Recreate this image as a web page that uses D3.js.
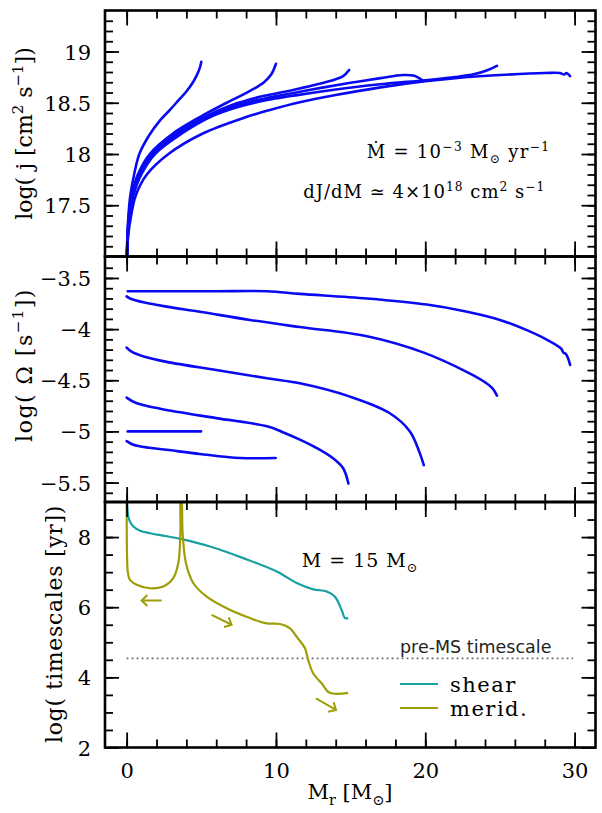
<!DOCTYPE html>
<html><head><meta charset="utf-8">
<script src="https://cdn.jsdelivr.net/npm/d3@7"></script>
<style>body{margin:0;background:#fff}</style>
</head><body><svg id="c" width="602" height="813"></svg>
<script>
// ---------------- DATA ----------------
const xTicks = [0, 10, 20, 30];
const jTicks = [17.5, 18, 18.5, 19];
const omegaTicks = [-5.5, -5, -4.5, -4, -3.5];
const tsTicks = [2, 4, 6, 8];

// log j  vs M_r, one curve per final mass
const jCurve5 = [[0.02,17.0],[0.05,17.2],[0.12,17.4],[0.25,17.6],[0.5,17.8],[0.85,18.0],[1.5,18.18],[2.25,18.33],[2.9,18.43],[3.45,18.52],[4.0,18.61],[4.4,18.69],[4.7,18.77],[4.9,18.84],[5.0,18.9]];
const jCurve10 = [[0.02,17.0],[0.06,17.2],[0.15,17.4],[0.33,17.6],[0.75,17.8],[1.55,18.0],[3.1,18.2],[4.9,18.36],[6.7,18.5],[8.2,18.61],[9.2,18.7],[9.7,18.78],[10.0,18.88]];
const jCurve15 = [[0.02,17.0],[0.07,17.2],[0.17,17.4],[0.38,17.6],[0.82,17.8],[1.7,18.0],[3.3,18.2],[5.2,18.36],[7.1,18.48],[9.0,18.56],[11,18.62],[12.5,18.67],[13.8,18.72],[14.5,18.76],[14.9,18.82]];
const jCurve20 = [[0.02,17.0],[0.07,17.2],[0.18,17.4],[0.42,17.6],[0.9,17.8],[1.8,18.0],[3.5,18.2],[5.4,18.36],[7.3,18.47],[9.2,18.54],[11,18.59],[13,18.645],[15,18.695],[17,18.74],[18.5,18.77],[19.2,18.765],[19.6,18.74],[19.8,18.72]];
const jCurve25 = [[0.02,17.0],[0.08,17.2],[0.2,17.4],[0.46,17.6],[0.98,17.8],[1.9,18.0],[3.7,18.2],[5.6,18.36],[7.5,18.46],[9.5,18.53],[11,18.565],[14,18.63],[17,18.68],[20,18.72],[22,18.75],[23.3,18.78],[24.2,18.82],[24.8,18.86]];
const jCurve30 = [[0.02,17.0],[0.1,17.2],[0.3,17.4],[0.62,17.6],[1.35,17.8],[2.8,18.0],[5.1,18.2],[8.0,18.36],[9.6,18.43],[11.6,18.505],[14,18.575],[17,18.65],[20,18.71],[22,18.74],[25,18.77],[28,18.79],[29.0,18.79],[29.3,18.775],[29.45,18.79],[29.7,18.76]];

// log Omega vs M_r
const omegaCurve5 = [[0.07,-5.0],[4.98,-5.0]];
const omegaCurve10 = [[0.0,-5.095],[0.45,-5.13],[1.5,-5.16],[2.68,-5.18],[4.9,-5.22],[7.6,-5.26],[9.98,-5.26]];
const omegaCurve15 = [[0.0,-4.67],[0.45,-4.71],[1.3,-4.75],[2.68,-4.79],[6.0,-4.87],[9.4,-4.95],[10.5,-5.01],[11.6,-5.08],[12.7,-5.16],[13.8,-5.26],[14.5,-5.36],[14.85,-5.51]];
const omegaCurve20 = [[0.0,-4.18],[0.33,-4.22],[1.2,-4.27],[2.68,-4.32],[6.0,-4.40],[9.4,-4.48],[11.6,-4.53],[14.96,-4.66],[17.6,-4.82],[18.97,-5.0],[19.6,-5.2],[19.9,-5.33]];
const omegaCurve25 = [[0.0,-3.68],[0.22,-3.70],[1.2,-3.74],[2.68,-3.78],[4.9,-3.83],[8.26,-3.91],[11.6,-3.98],[16.1,-4.07],[19.9,-4.23],[22.8,-4.42],[23.9,-4.51],[24.5,-4.58],[24.8,-4.65]];
const omegaCurve30 = [[0.07,-3.63],[3,-3.63],[6,-3.63],[9.4,-3.63],[11.6,-3.655],[16.1,-3.70],[20.1,-3.76],[22.8,-3.83],[25.0,-3.91],[26.8,-4.01],[28.1,-4.10],[29.1,-4.19],[29.25,-4.23],[29.4,-4.24],[29.55,-4.28],[29.7,-4.35]];

// log timescales vs M_r (M = 15 Msun)
const shearTs = [[0.02,9.1],[0.05,8.8],[0.11,8.59],[0.25,8.42],[0.45,8.30],[0.9,8.18],[1.56,8.11],[2.6,8.03],[3.68,7.94],[5.58,7.73],[7.81,7.40],[10.05,7.02],[11.39,6.69],[12.5,6.51],[13.4,6.45],[13.95,6.30],[14.4,5.92],[14.62,5.69],[14.84,5.69]];
const meridTs = [[0.0,9.1],[0.01,8.0],[0.03,7.4],[0.08,7.0],[0.22,6.78],[0.67,6.64],[1.56,6.54],[2.45,6.59],[3.12,6.83],[3.46,7.26],[3.6,8.11],[3.63,9.2],[3.66,9.2],[3.75,8.11],[3.97,7.26],[4.46,6.69],[5.36,6.30],[6.7,5.97],[8.26,5.69],[9.38,5.54],[10.27,5.52],[10.94,5.40],[11.4,5.15],[11.94,4.83],[12.16,4.49],[12.5,4.11],[13.06,3.83],[13.6,3.56],[14.84,3.56]];
const preMSTimescale = 4.54;
const preMSRange = [0, 29.9];

// arrows in the timescale panel (data coordinates: from -> to)
const arrowFrom = [[2.34,6.19],[5.69,5.78],[12.68,3.40]];
const arrowTo   = [[1.0,6.19],[7.03,5.50],[14.02,3.07]];

// ---------------- LAYOUT ----------------
const svg = d3.select("#c");
const L = 105, R = 595.5;
const BLUE = "#0a0af2", TEAL = "#17a0a0", OLIVE = "#9e9e08";
const SERIF = "DejaVu Serif";

const x = d3.scaleLinear().domain([-1.45, 31.4]).range([L, R]);
const yJ = d3.scaleLinear().domain([17, 19.4]).range([256.5, 10.5]);
const yO = d3.scaleLinear().domain([-5.69, -3.29]).range([502, 256.5]);
const yT = d3.scaleLinear().domain([2, 9]).range([747.5, 502]);

const panels = [
  {id:"p1", y:yJ, major:jTicks, minor:d3.range(17.1, 19.4, 0.1)},
  {id:"p2", y:yO, major:omegaTicks, minor:d3.range(-5.6, -3.3, 0.1)},
  {id:"p3", y:yT, major:tsTicks, minor:d3.range(2.5, 9, 0.5)}
];
const xMinor = d3.range(-0, 32, 2);
const fmtMinus = d => d3.format("")(d).replace("-", "\u2212");

const defs = svg.append("defs");
panels.forEach(p => {
  const [b, t] = p.y.range();
  defs.append("clipPath").attr("id", "clip-" + p.id)
    .append("rect").attr("x", L).attr("y", t).attr("width", R - L).attr("height", b - t);
});

function tickAxes(p, labelLeft, labelBottom) {
  const [b, t] = p.y.range();
  const noDom = g => { g.select(".domain").remove(); g.selectAll("line").attr("stroke","#000").attr("stroke-width",1.8); };
  svg.append("g").attr("transform", `translate(${L},0)`)
    .call(d3.axisRight(p.y).tickValues(p.minor).tickSize(8).tickFormat("")).call(noDom);
  svg.append("g").attr("transform", `translate(${L},0)`)
    .call(d3.axisRight(p.y).tickValues(p.major).tickSize(14).tickFormat("")).call(noDom);
  svg.append("g").attr("transform", `translate(${R},0)`)
    .call(d3.axisLeft(p.y).tickValues(p.minor).tickSize(8).tickFormat("")).call(noDom);
  svg.append("g").attr("transform", `translate(${R},0)`)
    .call(d3.axisLeft(p.y).tickValues(p.major).tickSize(14).tickFormat("")).call(noDom);
  svg.append("g").attr("transform", `translate(0,${t})`)
    .call(d3.axisBottom(x).tickValues(xMinor).tickSize(8).tickFormat("")).call(noDom);
  svg.append("g").attr("transform", `translate(0,${t})`)
    .call(d3.axisBottom(x).tickValues(xTicks).tickSize(15).tickFormat("")).call(noDom);
  svg.append("g").attr("transform", `translate(0,${b})`)
    .call(d3.axisTop(x).tickValues(xMinor).tickSize(8).tickFormat("")).call(noDom);
  svg.append("g").attr("transform", `translate(0,${b})`)
    .call(d3.axisTop(x).tickValues(xTicks).tickSize(15).tickFormat("")).call(noDom);
  const gl = svg.append("g").attr("transform", `translate(${L},0)`)
    .call(d3.axisLeft(p.y).tickValues(p.major).tickSize(0).tickPadding(14).tickFormat(fmtMinus));
  gl.select(".domain").remove();
  gl.selectAll("text").attr("font-family", SERIF).attr("font-size", 21).attr("fill", "#000").attr("dy", "0.36em");
  if (labelBottom) {
    const gb = svg.append("g").attr("transform", `translate(0,${b})`)
      .call(d3.axisBottom(x).tickValues(xTicks).tickSize(0).tickPadding(0).tickFormat(d3.format("")));
    gb.select(".domain").remove();
    gb.selectAll("text").attr("font-family", SERIF).attr("font-size", 21).attr("fill", "#000")
      .attr("dy", null).attr("y", 30);
  }
  svg.append("rect").attr("x", L).attr("y", t).attr("width", R - L).attr("height", b - t)
    .attr("fill", "none").attr("stroke", "#000").attr("stroke-width", 2.6);
}

const line = d3.line().x(d => x(d[0])).curve(d3.curveCatmullRom.alpha(0.5));

const g1 = svg.append("g").attr("clip-path", "url(#clip-p1)");
[jCurve5, jCurve10, jCurve15, jCurve20, jCurve25, jCurve30].forEach(c => {
  g1.append("path").attr("d", line.y(d => yJ(d[1]))(c)).attr("fill","none")
    .attr("stroke", BLUE).attr("stroke-width", 2.6).attr("stroke-linejoin","round").attr("stroke-linecap","round");
});
const g2 = svg.append("g").attr("clip-path", "url(#clip-p2)");
[omegaCurve5, omegaCurve10, omegaCurve15, omegaCurve20, omegaCurve25, omegaCurve30].forEach(c => {
  g2.append("path").attr("d", line.y(d => yO(d[1]))(c)).attr("fill","none")
    .attr("stroke", BLUE).attr("stroke-width", 2.6).attr("stroke-linejoin","round").attr("stroke-linecap","round");
});
const g3 = svg.append("g").attr("clip-path", "url(#clip-p3)");
g3.append("line").attr("x1", x(preMSRange[0])).attr("x2", x(preMSRange[1]))
  .attr("y1", yT(preMSTimescale)).attr("y2", yT(preMSTimescale))
  .attr("stroke", "#666").attr("stroke-width", 1.8).attr("stroke-dasharray", "1.8,3.2");
g3.append("path").attr("d", line.y(d => yT(d[1]))(shearTs)).attr("fill","none")
  .attr("stroke", TEAL).attr("stroke-width", 2.2);
g3.append("path").attr("d", line.y(d => yT(d[1]))(meridTs)).attr("fill","none")
  .attr("stroke", OLIVE).attr("stroke-width", 2.2);
arrowFrom.forEach((f, i) => {
  const t = arrowTo[i];
  const x1 = x(f[0]), y1 = yT(f[1]), x2 = x(t[0]), y2 = yT(t[1]);
  const ang = Math.atan2(y2 - y1, x2 - x1), len = 8, sp = 0.75;
  const a1 = [x2 - len*Math.cos(ang - sp), y2 - len*Math.sin(ang - sp)];
  const a2 = [x2 - len*Math.cos(ang + sp), y2 - len*Math.sin(ang + sp)];
  g3.append("path").attr("d", `M${x1},${y1}L${x2},${y2}M${a1[0]},${a1[1]}L${x2},${y2}L${a2[0]},${a2[1]}`)
    .attr("fill","none").attr("stroke", OLIVE).attr("stroke-width", 2);
});

tickAxes(panels[0], true, false);
tickAxes(panels[1], true, false);
tickAxes(panels[2], true, true);

// ---------------- TEXT ----------------
function rich(sel, parts, fs) {
  let cur = 0;
  parts.forEach(([s, m]) => {
    const target = m === "sup" ? -0.4*fs : m === "sub" ? 0.28*fs : 0;
    sel.append("tspan").attr("dy", target - cur).attr("font-size", m ? fs*0.68 : fs).text(s);
    cur = target;
  });
  return sel;
}
function label(px, py, parts, fs, opts = {}) {
  const t = svg.append("text").attr("x", px).attr("y", py)
    .attr("font-family", opts.font || SERIF).attr("font-size", fs).attr("fill", "#000")
    .style("white-space", "pre").attr("text-anchor", opts.anchor || "start");
  if (opts.rotate) t.attr("transform", `rotate(-90,${px},${py})`);
  if (opts.ls) t.attr("letter-spacing", opts.ls);
  return rich(t, parts, fs);
}

label(31.5, 133.5, [["log( j [cm"],["2","sup"],[" s"],["\u22121","sup"],["])"]], 22, {rotate:true, anchor:"middle"});
label(31.5, 365, [["log( \u03A9 [s"],["\u22121","sup"],["])"]], 22, {rotate:true, anchor:"middle", ls:1.5});
label(61.5, 624, [["log( timescales [yr])"]], 22, {rotate:true, anchor:"middle", ls:0.7});
label(350, 799, [["M"],["r","sub"],[" [M"],["\u2299","sub"],["]"]], 21, {anchor:"middle"});

label(366.7, 158.3, [["\u1E40 = 10"],["\u22123","sup"],[" M"],["\u2299","sub"],[" yr"],["\u22121","sup"]], 18, {ls:1.3});
label(303.3, 198.3, [["dJ/dM \u2243 4\u00D710"],["18","sup"],[" cm"],["2","sup"],[" s"],["\u22121","sup"]], 18, {ls:1});
label(301.7, 566.7, [["M = 15 M"],["\u2299","sub"]], 19, {ls:1});

label(400, 653, [["pre-MS timescale"]], 17.5, {font:"DejaVu Sans"}).attr("fill", "#222");

// legend
const legend = [["shear", TEAL, 684], ["merid.", OLIVE, 708]];
legend.forEach(([name, col, ly]) => {
  svg.append("line").attr("x1", 400).attr("x2", 438).attr("y1", ly).attr("y2", ly)
    .attr("stroke", col).attr("stroke-width", 2.2);
  label(450, ly + 7.5, [[name]], 21, {ls:1.5});
});
</script></body></html>
